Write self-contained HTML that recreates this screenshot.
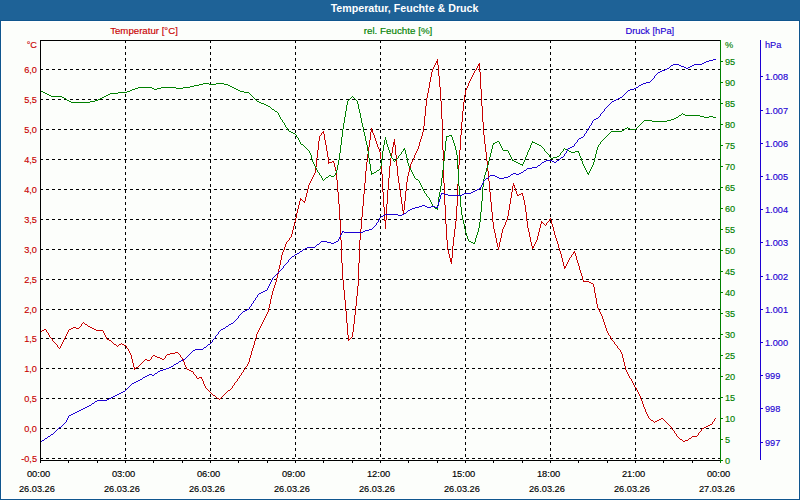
<!DOCTYPE html>
<html><head><meta charset="utf-8"><title>Temperatur, Feuchte &amp; Druck</title>
<style>
html,body{margin:0;padding:0}
body{width:800px;height:500px;overflow:hidden;background:#1E6297;position:relative;font-family:"Liberation Sans",sans-serif;font-size:10px}
#hd{position:absolute;left:0;top:0;width:800px;height:20px;background:#1E6297;color:#fff;font-weight:bold;text-align:center;line-height:16px;font-size:11px}
#fr{position:absolute;left:0;top:20px;width:798px;height:478px;background:#FCFEFB;border:1px solid #0F568E}
svg{position:absolute;left:0;top:0}
text{font-family:"Liberation Sans",sans-serif;font-size:10px}
</style></head><body>
<div id="hd"><span style="display:inline-block;transform:translate(4.2px,0px) scale(0.968,1);transform-origin:50% 50%">Temperatur, Feuchte &amp; Druck</span></div>
<div id="fr"></div>
<svg width="800" height="500" viewBox="0 0 800 500">
<path d="M1.5,21.5 H798.5 V498.5 H1.5 Z" fill="none" stroke="#fff" stroke-width="1" shape-rendering="crispEdges"/>
<path d="M40,69.5 H720 M40,99.5 H720 M40,129.5 H720 M40,159.5 H720 M40,189.5 H720 M40,219.5 H720 M40,249.5 H720 M40,279.5 H720 M40,309.5 H720 M40,338.5 H720 M40,368.5 H720 M40,398.5 H720 M40,428.5 H720 M40,458.5 H720 M125.5,40 V460 M210.5,40 V460 M295.5,40 V460 M380.5,40 V460 M465.5,40 V460 M550.5,40 V460 M635.5,40 V460" fill="none" stroke="#000" stroke-width="1" stroke-dasharray="3 3" shape-rendering="crispEdges"/>
<path d="M131.5 355v4M132.5 359v4M133.5 363v4M134.5 367v3M184.5 362v3M203.5 381v3M249.5 358v4M250.5 355v3M251.5 351v4M252.5 348v3M253.5 345v3M254.5 341v4M255.5 338v3M256.5 334v4M268.5 308v4M269.5 304v4M270.5 299v5M271.5 295v4M272.5 291v4M273.5 288v3M274.5 285v3M275.5 282v3M276.5 278v4M277.5 274v4M278.5 269v5M279.5 265v4M280.5 260v5M281.5 255v5M282.5 252v3M284.5 247v3M285.5 244v3M291.5 234v3M292.5 230v4M293.5 226v4M294.5 222v4M295.5 218v4M296.5 213v5M297.5 209v4M298.5 205v4M299.5 201v4M300.5 198v3M305.5 197v4M306.5 193v4M307.5 189v4M308.5 185v4M315.5 167v6M316.5 158v9M317.5 150v8M318.5 141v9M319.5 136v5M323.5 131v3M324.5 134v6M325.5 140v5M326.5 145v6M327.5 151v6M328.5 157v7M334.5 163v4M335.5 167v4M336.5 171v9M337.5 180v12M338.5 192v12M339.5 204v16M340.5 220v20M341.5 240v23M342.5 263v17M343.5 280v10M344.5 290v10M345.5 300v11M346.5 311v12M347.5 323v12M348.5 335v6M352.5 332v5M353.5 324v8M354.5 315v9M355.5 306v9M356.5 296v10M357.5 286v10M358.5 263v23M359.5 240v23M360.5 229v11M361.5 217v12M362.5 206v11M363.5 194v12M364.5 183v11M365.5 171v12M366.5 162v9M367.5 154v8M368.5 147v7M369.5 140v7M370.5 132v8M371.5 128v4M372.5 130v3M374.5 135v3M375.5 138v3M376.5 141v3M377.5 144v3M379.5 149v3M380.5 152v7M381.5 159v15M382.5 174v18M383.5 192v15M384.5 207v14M385.5 220v9M386.5 204v16M387.5 190v14M388.5 178v12M389.5 166v12M390.5 158v8M391.5 153v5M392.5 147v6M393.5 142v5M394.5 139v6M395.5 145v10M396.5 155v11M397.5 166v10M398.5 176v7M399.5 183v7M400.5 190v7M401.5 197v7M402.5 204v7M403.5 210v5M404.5 201v9M405.5 191v10M406.5 182v9M407.5 176v6M408.5 172v4M409.5 168v4M410.5 164v4M414.5 155v3M418.5 146v3M419.5 142v4M420.5 139v3M421.5 136v3M422.5 132v4M423.5 126v6M424.5 116v10M425.5 106v10M426.5 98v8M427.5 93v5M428.5 88v5M429.5 82v6M430.5 77v5M431.5 72v5M432.5 69v3M437.5 59v6M438.5 65v11M439.5 76v11M440.5 87v14M441.5 101v18M442.5 119v31M443.5 150v33M444.5 183v22M445.5 205v19M446.5 224v16M447.5 240v10M448.5 250v4M449.5 254v4M450.5 258v4M451.5 258v6M452.5 246v12M453.5 237v9M454.5 229v8M455.5 221v8M456.5 206v15M457.5 184v22M458.5 165v19M459.5 150v15M460.5 135v15M461.5 122v13M462.5 111v11M463.5 102v9M464.5 95v7M465.5 90v5M468.5 83v3M479.5 63v9M480.5 72v17M481.5 89v17M482.5 106v16M483.5 122v13M484.5 135v9M485.5 144v8M486.5 152v9M487.5 161v10M488.5 171v10M489.5 181v11M490.5 192v10M491.5 202v10M492.5 212v10M493.5 222v7M494.5 229v4M495.5 233v5M496.5 238v5M497.5 243v4M498.5 247v3M499.5 242v5M500.5 238v4M501.5 233v5M502.5 229v4M505.5 222v3M507.5 216v4M508.5 210v6M509.5 204v6M510.5 198v6M511.5 192v6M512.5 186v6M513.5 183v3M514.5 185v3M515.5 188v3M516.5 191v3M522.5 193v3M523.5 196v4M524.5 200v5M525.5 205v7M526.5 212v9M527.5 221v7M528.5 228v4M529.5 232v5M530.5 237v5M531.5 242v4M532.5 246v3M537.5 236v4M538.5 232v4M539.5 228v4M540.5 224v4M541.5 221v3M551.5 220v4M552.5 224v3M553.5 227v4M554.5 231v4M555.5 235v3M556.5 238v3M557.5 241v3M558.5 244v4M559.5 248v3M560.5 251v3M561.5 254v4M562.5 258v4M563.5 262v4M564.5 266v3M575.5 253v3M576.5 256v4M577.5 260v3M578.5 263v3M579.5 266v4M580.5 270v3M581.5 273v3M582.5 276v4M593.5 284v3M594.5 287v6M595.5 293v5M596.5 298v6M597.5 304v4M602.5 316v3M603.5 319v3M604.5 322v3M605.5 325v3M606.5 328v3M622.5 354v4M623.5 358v4M624.5 362v4M625.5 366v4M640.5 396v3M642.5 401v3M643.5 404v3M645.5 409v3M436 61.5h1M436 62.5h1M435 63.5h1M435 64.5h1M478 64.5h1M434 65.5h1M478 65.5h1M434 66.5h1M477 66.5h1M433 67.5h1M477 67.5h1M433 68.5h1M476 68.5h1M476 69.5h1M475 70.5h1M474 71.5h1M474 72.5h1M473 73.5h1M473 74.5h1M472 75.5h1M472 76.5h1M471 77.5h1M471 78.5h1M470 79.5h1M470 80.5h1M469 81.5h1M469 82.5h1M467 86.5h1M467 87.5h1M466 88.5h1M466 89.5h1M322 132.5h1M321 133.5h1M373 133.5h1M321 134.5h1M373 134.5h1M320 135.5h1M378 147.5h1M378 148.5h1M417 149.5h1M417 150.5h1M416 151.5h1M416 152.5h1M415 153.5h1M415 154.5h1M413 158.5h1M413 159.5h1M412 160.5h1M332 161.5h2M412 161.5h1M329 162.5h3M333 162.5h1M411 162.5h1M411 163.5h1M314 173.5h1M314 174.5h1M313 175.5h1M313 176.5h1M312 177.5h1M312 178.5h1M311 179.5h1M311 180.5h1M310 181.5h1M310 182.5h1M309 183.5h1M309 184.5h1M521 193.5h1M517 194.5h1M519 194.5h2M517 195.5h2M301 199.5h1M302 200.5h1M303 201.5h2M304 202.5h1M550 218.5h1M549 219.5h2M506 220.5h1M549 220.5h1M506 221.5h1M548 221.5h1M542 222.5h1M547 222.5h1M543 223.5h1M546 223.5h1M544 224.5h1M546 224.5h1M504 225.5h1M545 225.5h1M504 226.5h1M503 227.5h1M503 228.5h1M290 237.5h1M289 238.5h1M289 239.5h1M288 240.5h1M536 240.5h1M287 241.5h1M536 241.5h1M286 242.5h1M535 242.5h1M286 243.5h1M535 243.5h1M534 244.5h1M534 245.5h1M533 246.5h1M533 247.5h1M283 250.5h1M283 251.5h1M574 251.5h1M573 252.5h2M573 253.5h1M572 254.5h1M571 255.5h1M571 256.5h1M570 257.5h1M569 258.5h1M569 259.5h1M568 260.5h1M568 261.5h1M567 262.5h1M567 263.5h1M566 264.5h1M566 265.5h1M565 266.5h1M565 267.5h1M583 280.5h1M583 281.5h6M589 282.5h2M591 283.5h2M598 308.5h1M598 309.5h1M599 310.5h1M599 311.5h1M267 312.5h1M600 312.5h1M267 313.5h1M600 313.5h1M266 314.5h1M601 314.5h1M266 315.5h1M601 315.5h1M265 316.5h1M265 317.5h1M264 318.5h1M264 319.5h1M263 320.5h1M263 321.5h1M83 322.5h1M262 322.5h1M82 323.5h1M84 323.5h1M262 323.5h1M81 324.5h1M85 324.5h2M261 324.5h1M81 325.5h1M87 325.5h1M261 325.5h1M80 326.5h1M88 326.5h2M260 326.5h1M73 327.5h3M79 327.5h1M90 327.5h2M260 327.5h1M71 328.5h2M76 328.5h3M92 328.5h2M259 328.5h1M44 329.5h2M69 329.5h2M94 329.5h2M259 329.5h1M42 330.5h2M46 330.5h1M68 330.5h1M96 330.5h7M258 330.5h1M40 331.5h2M46 331.5h1M68 331.5h1M103 331.5h1M258 331.5h1M607 331.5h1M47 332.5h1M67 332.5h1M103 332.5h1M257 332.5h1M607 332.5h1M48 333.5h1M67 333.5h1M104 333.5h1M257 333.5h1M608 333.5h1M48 334.5h1M66 334.5h1M104 334.5h1M608 334.5h1M49 335.5h1M66 335.5h1M105 335.5h1M609 335.5h1M49 336.5h1M65 336.5h1M105 336.5h1M610 336.5h1M50 337.5h1M65 337.5h1M106 337.5h1M351 337.5h1M610 337.5h1M51 338.5h1M64 338.5h1M106 338.5h1M350 338.5h1M611 338.5h1M52 339.5h1M64 339.5h1M107 339.5h2M349 339.5h1M611 339.5h1M52 340.5h1M63 340.5h1M109 340.5h2M612 340.5h1M53 341.5h1M63 341.5h1M111 341.5h1M613 341.5h1M54 342.5h1M62 342.5h1M112 342.5h1M614 342.5h1M55 343.5h1M62 343.5h1M113 343.5h1M121 343.5h1M614 343.5h1M56 344.5h1M61 344.5h1M114 344.5h2M119 344.5h2M122 344.5h2M615 344.5h1M57 345.5h1M61 345.5h1M116 345.5h1M118 345.5h1M124 345.5h2M616 345.5h1M57 346.5h1M60 346.5h1M117 346.5h1M126 346.5h1M617 346.5h1M58 347.5h1M60 347.5h1M126 347.5h1M617 347.5h1M59 348.5h1M127 348.5h1M618 348.5h1M128 349.5h1M619 349.5h1M128 350.5h1M620 350.5h1M129 351.5h1M620 351.5h1M129 352.5h1M175 352.5h3M621 352.5h1M130 353.5h1M170 353.5h5M178 353.5h1M621 353.5h1M130 354.5h1M167 354.5h3M179 354.5h1M153 355.5h2M166 355.5h1M180 355.5h1M152 356.5h1M155 356.5h2M165 356.5h1M180 356.5h1M151 357.5h1M157 357.5h3M165 357.5h1M181 357.5h1M151 358.5h1M160 358.5h2M164 358.5h1M182 358.5h1M145 359.5h2M150 359.5h1M162 359.5h2M182 359.5h1M144 360.5h1M147 360.5h3M183 360.5h1M143 361.5h1M183 361.5h1M142 362.5h1M248 362.5h1M141 363.5h1M248 363.5h1M140 364.5h1M247 364.5h1M139 365.5h1M185 365.5h1M247 365.5h1M138 366.5h1M185 366.5h1M246 366.5h1M136 367.5h2M186 367.5h1M245 367.5h1M135 368.5h1M186 368.5h1M245 368.5h1M187 369.5h2M244 369.5h1M189 370.5h2M243 370.5h1M626 370.5h1M191 371.5h2M243 371.5h1M626 371.5h1M193 372.5h1M242 372.5h1M627 372.5h1M193 373.5h1M241 373.5h1M627 373.5h1M194 374.5h1M241 374.5h1M628 374.5h1M195 375.5h1M240 375.5h1M628 375.5h1M196 376.5h1M239 376.5h1M629 376.5h1M196 377.5h1M199 377.5h3M239 377.5h1M629 377.5h1M197 378.5h2M201 378.5h1M238 378.5h1M630 378.5h1M202 379.5h1M237 379.5h1M631 379.5h1M202 380.5h1M237 380.5h1M631 380.5h1M236 381.5h1M632 381.5h1M235 382.5h1M632 382.5h1M234 383.5h1M633 383.5h1M204 384.5h1M234 384.5h1M633 384.5h1M204 385.5h1M233 385.5h1M634 385.5h1M205 386.5h1M232 386.5h1M634 386.5h1M205 387.5h1M232 387.5h1M635 387.5h1M206 388.5h1M231 388.5h1M636 388.5h1M207 389.5h1M230 389.5h1M636 389.5h1M208 390.5h1M228 390.5h2M637 390.5h1M209 391.5h1M227 391.5h1M637 391.5h1M210 392.5h1M226 392.5h1M638 392.5h1M211 393.5h1M225 393.5h1M638 393.5h1M212 394.5h1M224 394.5h1M639 394.5h1M213 395.5h2M223 395.5h1M639 395.5h1M215 396.5h1M222 396.5h1M216 397.5h1M221 397.5h1M217 398.5h2M220 398.5h1M219 399.5h1M641 399.5h1M641 400.5h1M644 407.5h1M644 408.5h1M646 412.5h1M646 413.5h1M647 414.5h1M647 415.5h1M648 416.5h1M648 417.5h1M649 418.5h1M661 418.5h2M715 418.5h1M650 419.5h1M659 419.5h2M663 419.5h1M714 419.5h1M651 420.5h2M657 420.5h2M664 420.5h1M714 420.5h1M653 421.5h1M655 421.5h2M665 421.5h1M713 421.5h1M654 422.5h1M666 422.5h1M712 422.5h1M667 423.5h1M712 423.5h1M668 424.5h1M710 424.5h2M669 425.5h1M708 425.5h2M670 426.5h1M706 426.5h2M671 427.5h1M704 427.5h2M671 428.5h1M702 428.5h2M672 429.5h1M701 429.5h1M673 430.5h1M701 430.5h1M674 431.5h1M700 431.5h1M674 432.5h1M699 432.5h1M675 433.5h1M698 433.5h1M676 434.5h1M698 434.5h1M676 435.5h1M697 435.5h1M677 436.5h1M692 436.5h5M678 437.5h1M691 437.5h1M679 438.5h1M689 438.5h2M680 439.5h2M688 439.5h1M682 440.5h1M685 440.5h3M683 441.5h2" fill="none" stroke="#C80000" stroke-width="1" shape-rendering="crispEdges"/>
<path d="M311.5 155v4M312.5 159v3M336.5 170v3M337.5 165v5M338.5 160v5M339.5 153v7M340.5 145v8M341.5 137v8M342.5 129v8M343.5 123v6M344.5 117v6M345.5 111v6M346.5 105v6M347.5 101v4M357.5 101v3M358.5 104v5M359.5 109v4M360.5 113v5M361.5 118v5M362.5 123v4M363.5 127v5M364.5 132v4M365.5 136v5M366.5 141v4M367.5 145v6M368.5 151v7M369.5 158v6M370.5 164v7M371.5 171v4M380.5 166v3M381.5 159v7M382.5 151v8M383.5 145v6M384.5 140v5M385.5 137v3M386.5 140v4M387.5 144v3M388.5 147v3M389.5 150v3M390.5 153v3M405.5 150v4M406.5 154v4M407.5 158v5M408.5 163v3M437.5 205v5M438.5 197v8M439.5 192v5M440.5 186v6M441.5 178v8M442.5 170v8M443.5 161v9M444.5 151v10M445.5 141v10M446.5 136v5M452.5 137v3M453.5 140v3M454.5 143v3M455.5 146v4M456.5 150v5M457.5 155v14M458.5 169v17M459.5 186v10M460.5 196v11M461.5 207v8M462.5 215v5M463.5 220v4M464.5 224v5M465.5 229v4M466.5 233v3M467.5 236v3M475.5 238v4M476.5 235v3M477.5 232v3M478.5 228v4M479.5 222v6M480.5 212v10M481.5 201v11M482.5 187v14M483.5 179v8M484.5 175v4M485.5 172v3M486.5 168v4M487.5 165v3M488.5 161v4M489.5 157v4M490.5 153v4M491.5 149v4M492.5 145v4M525.5 157v3M527.5 152v3M530.5 145v3M579.5 153v3M581.5 158v3M582.5 161v3M593.5 162v3M594.5 158v4M595.5 154v4M596.5 150v4M597.5 147v3M203 83.5h6M216 83.5h8M199 84.5h4M209 84.5h7M224 84.5h4M194 85.5h5M228 85.5h2M190 86.5h4M230 86.5h2M138 87.5h14M161 87.5h15M183 87.5h7M232 87.5h2M135 88.5h3M152 88.5h2M157 88.5h4M176 88.5h7M234 88.5h2M132 89.5h3M154 89.5h3M236 89.5h2M130 90.5h2M238 90.5h2M40 91.5h3M127 91.5h3M240 91.5h4M43 92.5h2M118 92.5h9M244 92.5h5M45 93.5h2M110 93.5h8M249 93.5h1M47 94.5h2M108 94.5h2M250 94.5h1M49 95.5h2M106 95.5h2M251 95.5h1M51 96.5h11M104 96.5h2M252 96.5h1M352 96.5h1M62 97.5h2M102 97.5h2M253 97.5h1M351 97.5h1M353 97.5h1M64 98.5h2M100 98.5h2M254 98.5h1M350 98.5h1M354 98.5h1M66 99.5h1M98 99.5h2M255 99.5h1M349 99.5h1M355 99.5h1M67 100.5h2M95 100.5h3M256 100.5h1M348 100.5h1M356 100.5h1M69 101.5h2M90 101.5h5M257 101.5h2M71 102.5h19M259 102.5h2M261 103.5h3M264 104.5h2M266 105.5h2M268 106.5h2M270 107.5h1M271 108.5h1M272 109.5h2M274 110.5h1M275 111.5h2M277 112.5h1M278 113.5h1M682 113.5h1M278 114.5h1M681 114.5h1M683 114.5h2M279 115.5h1M679 115.5h2M685 115.5h15M279 116.5h1M678 116.5h1M700 116.5h4M709 116.5h4M280 117.5h1M676 117.5h2M704 117.5h5M713 117.5h3M280 118.5h1M674 118.5h2M281 119.5h1M671 119.5h3M282 120.5h1M644 120.5h8M667 120.5h4M282 121.5h1M643 121.5h1M652 121.5h15M283 122.5h1M642 122.5h1M284 123.5h1M641 123.5h1M284 124.5h1M640 124.5h1M285 125.5h1M639 125.5h1M285 126.5h1M638 126.5h1M286 127.5h1M627 127.5h1M637 127.5h1M287 128.5h1M625 128.5h2M628 128.5h2M636 128.5h1M287 129.5h1M624 129.5h1M630 129.5h6M288 130.5h1M622 130.5h2M289 131.5h2M611 131.5h11M291 132.5h2M610 132.5h1M293 133.5h2M609 133.5h1M295 134.5h1M608 134.5h1M296 135.5h1M449 135.5h3M607 135.5h1M296 136.5h1M447 136.5h2M451 136.5h1M606 136.5h1M297 137.5h1M605 137.5h1M298 138.5h1M604 138.5h1M298 139.5h1M603 139.5h1M299 140.5h1M602 140.5h1M299 141.5h1M497 141.5h2M532 141.5h1M601 141.5h1M300 142.5h1M495 142.5h2M499 142.5h1M532 142.5h3M600 142.5h1M300 143.5h1M493 143.5h2M499 143.5h1M531 143.5h1M535 143.5h2M600 143.5h1M301 144.5h2M493 144.5h1M500 144.5h1M531 144.5h1M537 144.5h2M599 144.5h1M303 145.5h1M500 145.5h1M539 145.5h2M598 145.5h1M304 146.5h1M501 146.5h1M541 146.5h1M598 146.5h1M305 147.5h1M501 147.5h1M542 147.5h1M306 148.5h1M404 148.5h1M502 148.5h1M529 148.5h1M543 148.5h1M564 148.5h1M307 149.5h1M403 149.5h2M502 149.5h1M529 149.5h1M544 149.5h1M563 149.5h1M565 149.5h2M308 150.5h1M403 150.5h1M503 150.5h5M528 150.5h1M544 150.5h1M563 150.5h1M567 150.5h2M309 151.5h1M402 151.5h1M508 151.5h1M528 151.5h1M545 151.5h1M562 151.5h1M569 151.5h2M575 151.5h4M309 152.5h1M401 152.5h1M508 152.5h1M546 152.5h1M561 152.5h1M571 152.5h4M578 152.5h1M310 153.5h1M401 153.5h1M509 153.5h1M547 153.5h1M560 153.5h1M310 154.5h1M400 154.5h1M509 154.5h1M548 154.5h1M560 154.5h1M399 155.5h1M510 155.5h1M526 155.5h1M549 155.5h1M559 155.5h1M391 156.5h1M398 156.5h1M510 156.5h1M526 156.5h1M549 156.5h1M557 156.5h2M580 156.5h1M391 157.5h1M398 157.5h1M511 157.5h1M550 157.5h1M553 157.5h4M580 157.5h1M392 158.5h1M397 158.5h1M511 158.5h1M551 158.5h2M393 159.5h1M396 159.5h1M512 159.5h1M393 160.5h1M395 160.5h1M512 160.5h2M524 160.5h1M394 161.5h1M514 161.5h2M524 161.5h1M313 162.5h1M516 162.5h2M523 162.5h1M313 163.5h1M518 163.5h2M523 163.5h1M314 164.5h1M520 164.5h3M583 164.5h1M314 165.5h1M522 165.5h1M583 165.5h1M592 165.5h1M315 166.5h1M409 166.5h1M584 166.5h1M592 166.5h1M315 167.5h1M409 167.5h1M584 167.5h1M591 167.5h1M316 168.5h1M410 168.5h1M585 168.5h1M591 168.5h1M316 169.5h1M379 169.5h1M410 169.5h1M585 169.5h1M590 169.5h1M317 170.5h1M377 170.5h2M411 170.5h1M586 170.5h1M590 170.5h1M317 171.5h1M376 171.5h1M411 171.5h1M586 171.5h1M589 171.5h1M318 172.5h1M374 172.5h2M412 172.5h1M587 172.5h1M589 172.5h1M319 173.5h1M335 173.5h1M372 173.5h2M412 173.5h1M587 173.5h2M319 174.5h1M335 174.5h1M413 174.5h1M588 174.5h1M320 175.5h1M329 175.5h2M334 175.5h1M413 175.5h1M321 176.5h1M328 176.5h1M331 176.5h3M414 176.5h1M321 177.5h1M326 177.5h2M414 177.5h1M322 178.5h1M325 178.5h1M415 178.5h1M322 179.5h1M324 179.5h1M416 179.5h2M323 180.5h1M418 180.5h1M419 181.5h1M419 182.5h1M420 183.5h1M420 184.5h1M421 185.5h1M421 186.5h1M422 187.5h1M422 188.5h1M423 189.5h1M423 190.5h1M424 191.5h1M424 192.5h1M425 193.5h1M426 194.5h1M426 195.5h1M427 196.5h1M428 197.5h1M429 198.5h1M429 199.5h1M430 200.5h1M430 201.5h1M431 202.5h1M431 203.5h1M432 204.5h1M432 205.5h1M433 206.5h1M434 207.5h1M435 208.5h2M468 239.5h1M468 240.5h1M469 241.5h2M471 242.5h2M474 242.5h1M473 243.5h2" fill="none" stroke="#008000" stroke-width="1" shape-rendering="crispEdges"/>
<path d="M438.5 202v4M439.5 199v3M440.5 195v4M713 59.5h3M709 60.5h4M706 61.5h3M704 62.5h2M702 63.5h2M673 64.5h6M694 64.5h8M671 65.5h2M679 65.5h2M692 65.5h2M670 66.5h1M681 66.5h3M690 66.5h2M669 67.5h1M684 67.5h2M688 67.5h2M667 68.5h2M686 68.5h2M665 69.5h2M662 70.5h3M660 71.5h2M658 72.5h2M657 73.5h1M656 74.5h1M655 75.5h1M654 76.5h1M654 77.5h1M653 78.5h1M652 79.5h1M651 80.5h1M650 81.5h1M646 82.5h4M643 83.5h3M641 84.5h2M639 85.5h2M638 86.5h1M636 87.5h2M634 88.5h2M630 89.5h4M628 90.5h2M627 91.5h1M626 92.5h1M625 93.5h1M624 94.5h1M623 95.5h1M622 96.5h1M620 97.5h2M618 98.5h2M616 99.5h2M614 100.5h2M612 101.5h2M611 102.5h1M610 103.5h1M609 104.5h1M608 105.5h1M607 106.5h1M606 107.5h1M605 108.5h1M604 109.5h1M604 110.5h1M603 111.5h1M602 112.5h1M601 113.5h1M600 114.5h1M600 115.5h1M599 116.5h1M598 117.5h1M596 118.5h2M594 119.5h2M593 120.5h1M592 121.5h1M592 122.5h1M591 123.5h1M591 124.5h1M590 125.5h1M589 126.5h1M589 127.5h1M588 128.5h1M587 129.5h1M587 130.5h1M586 131.5h1M586 132.5h1M585 133.5h1M584 134.5h1M584 135.5h1M583 136.5h1M581 137.5h2M579 138.5h2M578 139.5h1M577 140.5h1M577 141.5h1M576 142.5h1M575 143.5h1M574 144.5h1M574 145.5h1M572 146.5h2M570 147.5h2M568 148.5h2M567 149.5h1M567 150.5h1M566 151.5h1M566 152.5h1M565 153.5h1M564 154.5h1M564 155.5h1M563 156.5h1M561 157.5h2M560 158.5h1M559 159.5h1M546 160.5h6M557 160.5h2M544 161.5h2M552 161.5h2M556 161.5h1M542 162.5h2M554 162.5h2M541 163.5h1M540 164.5h1M538 165.5h2M537 166.5h1M532 167.5h5M527 168.5h5M526 169.5h1M524 170.5h2M523 171.5h1M521 172.5h2M513 173.5h3M519 173.5h2M511 174.5h2M516 174.5h3M490 175.5h5M510 175.5h1M489 176.5h1M495 176.5h2M508 176.5h2M488 177.5h1M497 177.5h2M504 177.5h4M486 178.5h2M499 178.5h5M485 179.5h1M484 180.5h1M483 181.5h1M483 182.5h1M482 183.5h1M482 184.5h1M481 185.5h1M481 186.5h1M480 187.5h1M479 188.5h2M477 189.5h2M475 190.5h2M473 191.5h2M471 192.5h2M441 193.5h3M464 193.5h7M441 194.5h1M444 194.5h4M462 194.5h2M448 195.5h14M422 205.5h3M419 206.5h3M425 206.5h2M431 206.5h4M437 206.5h1M415 207.5h4M427 207.5h4M435 207.5h3M412 208.5h3M410 209.5h2M408 210.5h2M407 211.5h1M406 212.5h1M404 213.5h2M385 214.5h13M402 214.5h2M383 215.5h2M398 215.5h4M381 216.5h2M380 217.5h1M379 218.5h1M379 219.5h1M378 220.5h1M378 221.5h1M377 222.5h1M376 223.5h1M376 224.5h1M375 225.5h1M374 226.5h1M373 227.5h1M372 228.5h1M369 229.5h3M365 230.5h4M342 231.5h2M363 231.5h2M342 232.5h1M344 232.5h19M341 233.5h1M341 234.5h1M340 235.5h1M340 236.5h1M339 237.5h1M339 238.5h1M338 239.5h1M338 240.5h1M321 241.5h6M336 241.5h2M320 242.5h1M327 242.5h4M334 242.5h2M319 243.5h1M331 243.5h3M317 244.5h2M316 245.5h1M315 246.5h1M307 247.5h8M305 248.5h2M303 249.5h2M302 250.5h1M300 251.5h2M299 252.5h1M297 253.5h2M295 254.5h2M294 255.5h1M292 256.5h2M291 257.5h1M290 258.5h1M289 259.5h1M288 260.5h1M288 261.5h1M287 262.5h1M286 263.5h1M285 264.5h1M284 265.5h1M283 266.5h1M283 267.5h1M282 268.5h1M281 269.5h1M280 270.5h1M279 271.5h1M278 272.5h1M277 273.5h1M276 274.5h1M275 275.5h1M274 276.5h1M273 277.5h1M272 278.5h1M272 279.5h1M271 280.5h1M271 281.5h1M270 282.5h1M270 283.5h1M269 284.5h1M269 285.5h1M268 286.5h1M268 287.5h1M267 288.5h1M267 289.5h1M265 290.5h2M263 291.5h2M261 292.5h2M259 293.5h2M258 294.5h1M257 295.5h1M257 296.5h1M256 297.5h1M255 298.5h1M255 299.5h1M254 300.5h1M253 301.5h1M253 302.5h1M252 303.5h1M251 304.5h1M251 305.5h1M250 306.5h1M249 307.5h1M249 308.5h1M247 309.5h2M245 310.5h2M243 311.5h2M242 312.5h1M241 313.5h1M240 314.5h1M239 315.5h1M238 316.5h1M238 317.5h1M237 318.5h1M236 319.5h1M235 320.5h1M234 321.5h1M233 322.5h1M231 323.5h2M229 324.5h2M228 325.5h1M226 326.5h2M225 327.5h1M223 328.5h2M221 329.5h2M220 330.5h1M219 331.5h1M218 332.5h1M218 333.5h1M217 334.5h1M216 335.5h1M215 336.5h1M215 337.5h1M214 338.5h1M213 339.5h1M212 340.5h1M212 341.5h1M211 342.5h1M210 343.5h1M208 344.5h2M207 345.5h1M206 346.5h1M204 347.5h2M203 348.5h1M195 349.5h8M193 350.5h2M192 351.5h1M191 352.5h1M190 353.5h1M189 354.5h1M188 355.5h1M187 356.5h1M186 357.5h1M185 358.5h1M183 359.5h2M181 360.5h2M179 361.5h2M178 362.5h1M176 363.5h2M174 364.5h2M173 365.5h1M171 366.5h2M169 367.5h2M166 368.5h3M163 369.5h3M160 370.5h3M158 371.5h2M157 372.5h1M155 373.5h2M149 374.5h3M154 374.5h1M147 375.5h2M152 375.5h2M145 376.5h2M143 377.5h2M142 378.5h1M140 379.5h2M138 380.5h2M136 381.5h2M134 382.5h2M132 383.5h2M131 384.5h1M130 385.5h1M129 386.5h1M128 387.5h1M127 388.5h1M126 389.5h1M125 390.5h1M123 391.5h2M121 392.5h2M119 393.5h2M117 394.5h2M115 395.5h2M113 396.5h2M111 397.5h2M109 398.5h2M107 399.5h2M97 400.5h10M95 401.5h2M94 402.5h1M92 403.5h2M91 404.5h1M89 405.5h2M87 406.5h2M85 407.5h2M83 408.5h2M81 409.5h2M79 410.5h2M77 411.5h2M75 412.5h2M73 413.5h2M71 414.5h2M69 415.5h2M68 416.5h1M68 417.5h1M67 418.5h1M67 419.5h1M66 420.5h1M66 421.5h1M65 422.5h1M64 423.5h1M63 424.5h1M62 425.5h1M61 426.5h1M59 427.5h2M58 428.5h1M57 429.5h1M56 430.5h1M55 431.5h1M54 432.5h1M53 433.5h1M51 434.5h2M50 435.5h1M48 436.5h2M47 437.5h1M45 438.5h2M44 439.5h1M42 440.5h2M41 441.5h1M40 442.5h1" fill="none" stroke="#1C00D4" stroke-width="1" shape-rendering="crispEdges"/>
<path d="M40.5,40 V463 M40,40.5 H720 M40,460.5 H721 M68.5,460 V463 M97.5,460 V463 M125.5,460 V463 M153.5,460 V463 M182.5,460 V463 M210.5,460 V463 M238.5,460 V463 M267.5,460 V463 M295.5,460 V463 M323.5,460 V463 M352.5,460 V463 M380.5,460 V463 M408.5,460 V463 M437.5,460 V463 M465.5,460 V463 M493.5,460 V463 M522.5,460 V463 M550.5,460 V463 M578.5,460 V463 M607.5,460 V463 M635.5,460 V463 M663.5,460 V463 M692.5,460 V463" fill="none" stroke="#000" stroke-width="1" shape-rendering="crispEdges"/>
<path d="M720.5,40 V463 M721,460.5 H723 M721,439.5 H723 M721,418.5 H723 M721,397.5 H723 M721,376.5 H723 M721,355.5 H723 M721,334.5 H723 M721,313.5 H723 M721,292.5 H723 M721,271.5 H723 M721,250.5 H723 M721,229.5 H723 M721,208.5 H723 M721,187.5 H723 M721,166.5 H723 M721,145.5 H723 M721,124.5 H723 M721,103.5 H723 M721,82.5 H723 M721,61.5 H723" fill="none" stroke="#008000" stroke-width="1" shape-rendering="crispEdges"/>
<path d="M760.5,40 V460 M761,76.5 H763 M761,110.5 H763 M761,143.5 H763 M761,176.5 H763 M761,209.5 H763 M761,242.5 H763 M761,276.5 H763 M761,309.5 H763 M761,342.5 H763 M761,375.5 H763 M761,408.5 H763 M761,442.5 H763" fill="none" stroke="#1C00D4" stroke-width="1" shape-rendering="crispEdges"/>
<text transform="translate(37,48) scale(0.92,0.98)" fill="#C80000" stroke="#C80000" stroke-width="0.15" text-anchor="end">°C</text>
<text transform="translate(37,72.6) scale(0.92,0.98)" fill="#C80000" stroke="#C80000" stroke-width="0.15" text-anchor="end">6,0</text>
<text transform="translate(37,102.6) scale(0.92,0.98)" fill="#C80000" stroke="#C80000" stroke-width="0.15" text-anchor="end">5,5</text>
<text transform="translate(37,132.6) scale(0.92,0.98)" fill="#C80000" stroke="#C80000" stroke-width="0.15" text-anchor="end">5,0</text>
<text transform="translate(37,162.6) scale(0.92,0.98)" fill="#C80000" stroke="#C80000" stroke-width="0.15" text-anchor="end">4,5</text>
<text transform="translate(37,192.6) scale(0.92,0.98)" fill="#C80000" stroke="#C80000" stroke-width="0.15" text-anchor="end">4,0</text>
<text transform="translate(37,222.6) scale(0.92,0.98)" fill="#C80000" stroke="#C80000" stroke-width="0.15" text-anchor="end">3,5</text>
<text transform="translate(37,252.6) scale(0.92,0.98)" fill="#C80000" stroke="#C80000" stroke-width="0.15" text-anchor="end">3,0</text>
<text transform="translate(37,282.6) scale(0.92,0.98)" fill="#C80000" stroke="#C80000" stroke-width="0.15" text-anchor="end">2,5</text>
<text transform="translate(37,312.6) scale(0.92,0.98)" fill="#C80000" stroke="#C80000" stroke-width="0.15" text-anchor="end">2,0</text>
<text transform="translate(37,341.6) scale(0.92,0.98)" fill="#C80000" stroke="#C80000" stroke-width="0.15" text-anchor="end">1,5</text>
<text transform="translate(37,371.6) scale(0.92,0.98)" fill="#C80000" stroke="#C80000" stroke-width="0.15" text-anchor="end">1,0</text>
<text transform="translate(37,401.6) scale(0.92,0.98)" fill="#C80000" stroke="#C80000" stroke-width="0.15" text-anchor="end">0,5</text>
<text transform="translate(37,431.6) scale(0.92,0.98)" fill="#C80000" stroke="#C80000" stroke-width="0.15" text-anchor="end">0,0</text>
<text transform="translate(37,461.6) scale(0.92,0.98)" fill="#C80000" stroke="#C80000" stroke-width="0.15" text-anchor="end">-0,5</text>
<text transform="translate(725,48) scale(0.92,0.98)" fill="#008000" stroke="#008000" stroke-width="0.15" text-anchor="start">%</text>
<text transform="translate(725,463.6) scale(0.92,0.98)" fill="#008000" stroke="#008000" stroke-width="0.15" text-anchor="start">0</text>
<text transform="translate(725,442.6) scale(0.92,0.98)" fill="#008000" stroke="#008000" stroke-width="0.15" text-anchor="start">5</text>
<text transform="translate(725,421.6) scale(0.92,0.98)" fill="#008000" stroke="#008000" stroke-width="0.15" text-anchor="start">10</text>
<text transform="translate(725,400.6) scale(0.92,0.98)" fill="#008000" stroke="#008000" stroke-width="0.15" text-anchor="start">15</text>
<text transform="translate(725,379.6) scale(0.92,0.98)" fill="#008000" stroke="#008000" stroke-width="0.15" text-anchor="start">20</text>
<text transform="translate(725,358.6) scale(0.92,0.98)" fill="#008000" stroke="#008000" stroke-width="0.15" text-anchor="start">25</text>
<text transform="translate(725,337.6) scale(0.92,0.98)" fill="#008000" stroke="#008000" stroke-width="0.15" text-anchor="start">30</text>
<text transform="translate(725,316.6) scale(0.92,0.98)" fill="#008000" stroke="#008000" stroke-width="0.15" text-anchor="start">35</text>
<text transform="translate(725,295.6) scale(0.92,0.98)" fill="#008000" stroke="#008000" stroke-width="0.15" text-anchor="start">40</text>
<text transform="translate(725,274.6) scale(0.92,0.98)" fill="#008000" stroke="#008000" stroke-width="0.15" text-anchor="start">45</text>
<text transform="translate(725,253.6) scale(0.92,0.98)" fill="#008000" stroke="#008000" stroke-width="0.15" text-anchor="start">50</text>
<text transform="translate(725,232.6) scale(0.92,0.98)" fill="#008000" stroke="#008000" stroke-width="0.15" text-anchor="start">55</text>
<text transform="translate(725,211.6) scale(0.92,0.98)" fill="#008000" stroke="#008000" stroke-width="0.15" text-anchor="start">60</text>
<text transform="translate(725,190.6) scale(0.92,0.98)" fill="#008000" stroke="#008000" stroke-width="0.15" text-anchor="start">65</text>
<text transform="translate(725,169.6) scale(0.92,0.98)" fill="#008000" stroke="#008000" stroke-width="0.15" text-anchor="start">70</text>
<text transform="translate(725,148.6) scale(0.92,0.98)" fill="#008000" stroke="#008000" stroke-width="0.15" text-anchor="start">75</text>
<text transform="translate(725,127.6) scale(0.92,0.98)" fill="#008000" stroke="#008000" stroke-width="0.15" text-anchor="start">80</text>
<text transform="translate(725,106.6) scale(0.92,0.98)" fill="#008000" stroke="#008000" stroke-width="0.15" text-anchor="start">85</text>
<text transform="translate(725,85.6) scale(0.92,0.98)" fill="#008000" stroke="#008000" stroke-width="0.15" text-anchor="start">90</text>
<text transform="translate(725,64.6) scale(0.92,0.98)" fill="#008000" stroke="#008000" stroke-width="0.15" text-anchor="start">95</text>
<text transform="translate(765,48) scale(0.92,0.98)" fill="#1C00D4" stroke="#1C00D4" stroke-width="0.15" text-anchor="start">hPa</text>
<text transform="translate(765,79.6) scale(0.92,0.98)" fill="#1C00D4" stroke="#1C00D4" stroke-width="0.15" text-anchor="start">1.008</text>
<text transform="translate(765,113.6) scale(0.92,0.98)" fill="#1C00D4" stroke="#1C00D4" stroke-width="0.15" text-anchor="start">1.007</text>
<text transform="translate(765,146.6) scale(0.92,0.98)" fill="#1C00D4" stroke="#1C00D4" stroke-width="0.15" text-anchor="start">1.006</text>
<text transform="translate(765,179.6) scale(0.92,0.98)" fill="#1C00D4" stroke="#1C00D4" stroke-width="0.15" text-anchor="start">1.005</text>
<text transform="translate(765,212.6) scale(0.92,0.98)" fill="#1C00D4" stroke="#1C00D4" stroke-width="0.15" text-anchor="start">1.004</text>
<text transform="translate(765,245.6) scale(0.92,0.98)" fill="#1C00D4" stroke="#1C00D4" stroke-width="0.15" text-anchor="start">1.003</text>
<text transform="translate(765,279.6) scale(0.92,0.98)" fill="#1C00D4" stroke="#1C00D4" stroke-width="0.15" text-anchor="start">1.002</text>
<text transform="translate(765,312.6) scale(0.92,0.98)" fill="#1C00D4" stroke="#1C00D4" stroke-width="0.15" text-anchor="start">1.001</text>
<text transform="translate(765,345.6) scale(0.92,0.98)" fill="#1C00D4" stroke="#1C00D4" stroke-width="0.15" text-anchor="start">1.000</text>
<text transform="translate(765,378.6) scale(0.92,0.98)" fill="#1C00D4" stroke="#1C00D4" stroke-width="0.15" text-anchor="start">999</text>
<text transform="translate(765,411.6) scale(0.92,0.98)" fill="#1C00D4" stroke="#1C00D4" stroke-width="0.15" text-anchor="start">998</text>
<text transform="translate(765,445.6) scale(0.92,0.98)" fill="#1C00D4" stroke="#1C00D4" stroke-width="0.15" text-anchor="start">997</text>
<text transform="translate(144,34) scale(0.965,0.98)" fill="#C80000" stroke="#C80000" stroke-width="0.15" text-anchor="middle">Temperatur [°C]</text>
<text transform="translate(398,34) scale(0.98,0.98)" fill="#008000" stroke="#008000" stroke-width="0.15" text-anchor="middle">rel. Feuchte [%]</text>
<text transform="translate(649.8,34) scale(0.935,0.98)" fill="#1C00D4" stroke="#1C00D4" stroke-width="0.15" text-anchor="middle">Druck [hPa]</text>
<text transform="translate(38.6,477) scale(0.935,0.98)" fill="#000" stroke="#000" stroke-width="0.15" text-anchor="middle">00:00</text>
<text transform="translate(36.9,492) scale(0.925,0.98)" fill="#000" stroke="#000" stroke-width="0.15" text-anchor="middle">26.03.26</text>
<text transform="translate(123.6,477) scale(0.935,0.98)" fill="#000" stroke="#000" stroke-width="0.15" text-anchor="middle">03:00</text>
<text transform="translate(121.9,492) scale(0.925,0.98)" fill="#000" stroke="#000" stroke-width="0.15" text-anchor="middle">26.03.26</text>
<text transform="translate(208.6,477) scale(0.935,0.98)" fill="#000" stroke="#000" stroke-width="0.15" text-anchor="middle">06:00</text>
<text transform="translate(206.9,492) scale(0.925,0.98)" fill="#000" stroke="#000" stroke-width="0.15" text-anchor="middle">26.03.26</text>
<text transform="translate(293.6,477) scale(0.935,0.98)" fill="#000" stroke="#000" stroke-width="0.15" text-anchor="middle">09:00</text>
<text transform="translate(291.9,492) scale(0.925,0.98)" fill="#000" stroke="#000" stroke-width="0.15" text-anchor="middle">26.03.26</text>
<text transform="translate(378.6,477) scale(0.935,0.98)" fill="#000" stroke="#000" stroke-width="0.15" text-anchor="middle">12:00</text>
<text transform="translate(376.9,492) scale(0.925,0.98)" fill="#000" stroke="#000" stroke-width="0.15" text-anchor="middle">26.03.26</text>
<text transform="translate(463.6,477) scale(0.935,0.98)" fill="#000" stroke="#000" stroke-width="0.15" text-anchor="middle">15:00</text>
<text transform="translate(461.9,492) scale(0.925,0.98)" fill="#000" stroke="#000" stroke-width="0.15" text-anchor="middle">26.03.26</text>
<text transform="translate(548.6,477) scale(0.935,0.98)" fill="#000" stroke="#000" stroke-width="0.15" text-anchor="middle">18:00</text>
<text transform="translate(546.9,492) scale(0.925,0.98)" fill="#000" stroke="#000" stroke-width="0.15" text-anchor="middle">26.03.26</text>
<text transform="translate(633.6,477) scale(0.935,0.98)" fill="#000" stroke="#000" stroke-width="0.15" text-anchor="middle">21:00</text>
<text transform="translate(631.9,492) scale(0.925,0.98)" fill="#000" stroke="#000" stroke-width="0.15" text-anchor="middle">26.03.26</text>
<text transform="translate(718.6,477) scale(0.935,0.98)" fill="#000" stroke="#000" stroke-width="0.15" text-anchor="middle">00:00</text>
<text transform="translate(716.9,492) scale(0.925,0.98)" fill="#000" stroke="#000" stroke-width="0.15" text-anchor="middle">27.03.26</text>
</svg>
</body></html>
